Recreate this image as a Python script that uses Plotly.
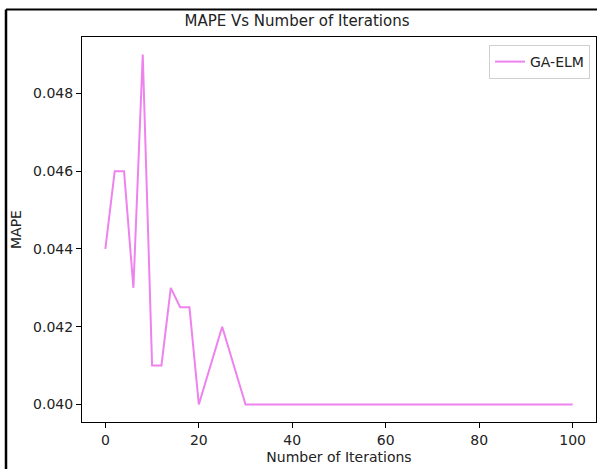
import plotly.graph_objects as go

iterations = [0, 2, 4, 6, 8, 10, 12, 14, 16, 18, 20, 25, 30, 40, 50, 60, 70, 80, 90, 100]
mape = [0.044, 0.046, 0.046, 0.043, 0.049, 0.041, 0.041, 0.043, 0.0425, 0.0425,
        0.040, 0.042, 0.040, 0.040, 0.040, 0.040, 0.040, 0.040, 0.040, 0.040]
x_ticks = [0, 20, 40, 60, 80, 100]
y_ticks = [0.040, 0.042, 0.044, 0.046, 0.048]

W, H = 597, 469
L, R, T, B = 82, 596, 37, 422

fig = go.Figure()
fig.add_trace(go.Scatter(x=iterations, y=mape, mode="lines", name="GA-ELM",
                         line=dict(color="violet", width=2)))

def px2paper_x(p):
    return (p - L) / (R - L)

def py2paper_y(p):
    return (B - p) / (B - T)

axis_common = dict(showgrid=False, zeroline=False, showline=True, linecolor="black",
                   linewidth=1, mirror=True, ticks="outside", ticklen=5,
                   tickcolor="black", tickwidth=1,
                   tickfont=dict(size=14, color="#222", family="DejaVu Sans"))

fig.update_layout(
    width=W, height=H,
    margin=dict(l=L, r=W - R, t=T, b=H - B),
    paper_bgcolor="white", plot_bgcolor="white",
    font=dict(family="DejaVu Sans", color="#222"),
    title=dict(text="MAPE Vs Number of Iterations", x=297 / W,
               xanchor="center", y=1 - 21 / H, yanchor="middle",
               font=dict(size=15, color="#222")),
    xaxis=dict(range=[-5, 105], tickvals=x_ticks,
               title=dict(text="Number of Iterations", font=dict(size=14), standoff=5),
               **axis_common),
    yaxis=dict(range=[0.03955, 0.04945], tickvals=y_ticks, tickformat=".3f",
               title=dict(text="MAPE", font=dict(size=14), standoff=8),
               **axis_common),
    showlegend=True,
    legend=dict(x=px2paper_x(590), y=py2paper_y(45), xanchor="right", yanchor="top",
                bordercolor="#d0d0d0", borderwidth=1, bgcolor="white",
                font=dict(size=14, color="#222")),
    shapes=[
        dict(type="line", xref="paper", yref="paper",
             x0=px2paper_x(6), x1=px2paper_x(597), y0=py2paper_y(9.5), y1=py2paper_y(9.5),
             line=dict(color="black", width=2)),
        dict(type="line", xref="paper", yref="paper",
             x0=px2paper_x(6), x1=px2paper_x(6), y0=py2paper_y(9.5), y1=py2paper_y(469),
             line=dict(color="black", width=2.5)),
    ],
)

fig.write_html("out.html", config={"displayModeBar": False},
               post_script="document.body.style.margin='0';")
